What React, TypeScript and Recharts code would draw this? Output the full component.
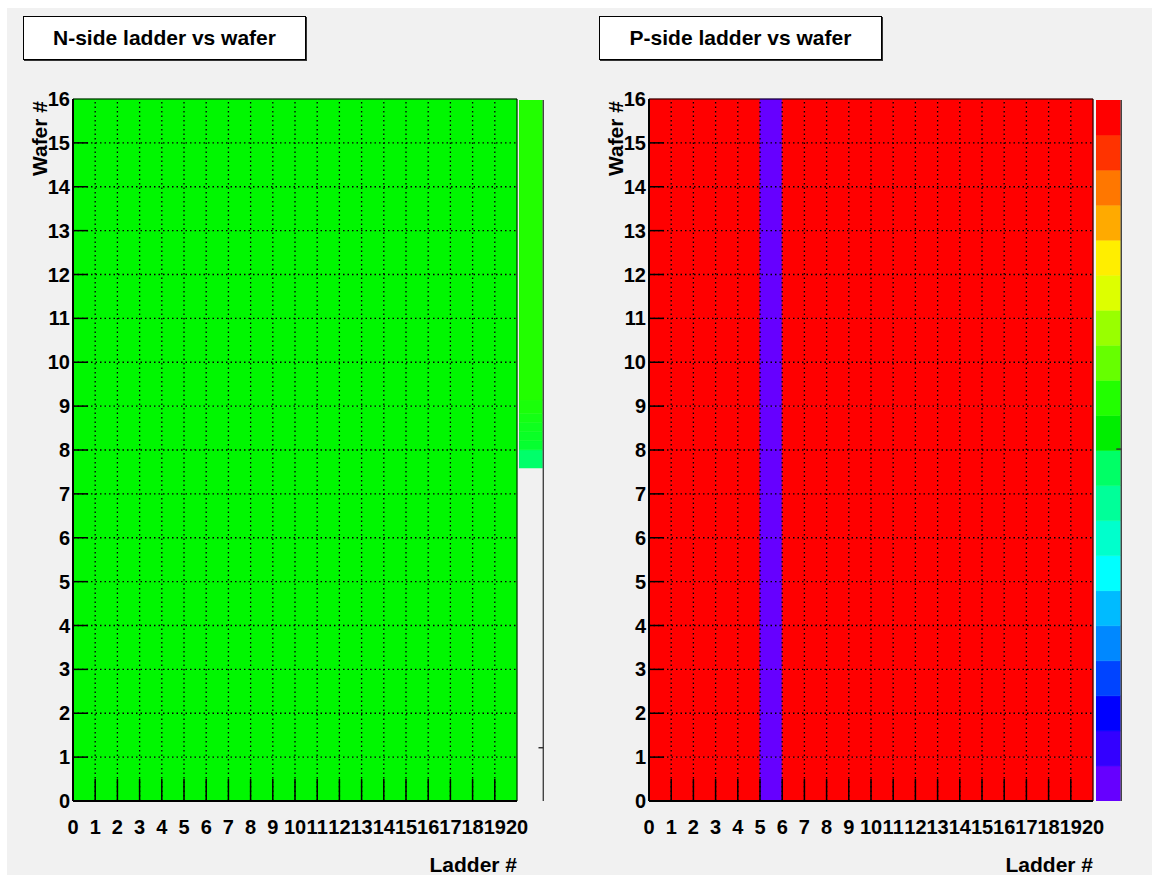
import { ComposedChart, XAxis, YAxis, ReferenceArea, ReferenceLine, Scatter } from "recharts";

// ladders along x, wafers along y
const ladders = [0, 1, 2, 3, 4, 5, 6, 7, 8, 9, 10, 11, 12, 13, 14, 15, 16, 17, 18, 19];
const wafers = [0, 1, 2, 3, 4, 5, 6, 7, 8, 9, 10, 11, 12, 13, 14, 15];
const xTicks = [0, 1, 2, 3, 4, 5, 6, 7, 8, 9, 10, 11, 12, 13, 14, 15, 16, 17, 18, 19, 20];
const yTicks = [0, 1, 2, 3, 4, 5, 6, 7, 8, 9, 10, 11, 12, 13, 14, 15, 16];

// value of each ladder (same for every wafer of the ladder)
const nSideLadderValues = [1, 1, 1, 1, 1, 1, 1, 1, 1, 1, 1, 1, 1, 1, 1, 1, 1, 1, 1, 1];
const pSideLadderValues = [1, 1, 1, 1, 1, 0, 1, 1, 1, 1, 1, 1, 1, 1, 1, 1, 1, 1, 1, 1];

// ROOT palette, bottom to top
const palette = [
    "#6600ff", "#3300ff", "#0000ff", "#0044ff", "#0088ff", "#00bbff", "#00ffff", "#00ffcc", "#00ff99", "#00ff66",
    "#00ee00", "#22ff00", "#66ff00", "#99ff00", "#ddff00", "#ffee00", "#ffaa00", "#ff7700", "#ff3300", "#ff0000",
];

// N-side colour bar: solid top part and thin stripes under it, the rest is empty
const nScaleStops = [0.475, 0.501, 0.514, 0.527, 0.54, 0.553, 0.572, 1];
const nScaleColors = ["#00ff6a", "#06ff30", "#0aff26", "#0eff1e", "#14ff14", "#1aff0a", "#22ff00"];
const nScaleTick = 0.076;
const pScaleTick = 0.502;

const FONT = '"Liberation Sans", Arial, Helvetica, sans-serif';

function colorOf(v: number) {
    let i = Math.floor(v * palette.length);
    if (i > palette.length - 1) i = palette.length - 1;
    if (i < 0) i = 0;
    return palette[i];
}

const XTick = (props: any) => {
    const { x, y, payload } = props;
    return (
        <text x={x} y={y + 33} textAnchor="middle" fontSize={20} fontWeight="bold" fill="#000" fontFamily={FONT}>
            {payload.value}
        </text>
    );
};

const YTick = (props: any) => {
    const { x, y, payload } = props;
    return (
        <text x={x} y={y + 7} textAnchor="end" fontSize={20} fontWeight="bold" fill="#000" fontFamily={FONT}>
            {payload.value}
        </text>
    );
};

// corner points so the axes have something to work with
const frameData = [{ x: 0, y: 0 }, { x: 20, y: 16 }];
const barFrameData = [{ x: 0, y: 0 }, { x: 1, y: 1 }];

function Panel(props: {
    left: number,
    title: string,
    values: number[],
    cellColor: (v: number) => string,
    bars: { from: number, to: number, color: string }[],
    barLeft: number,
    barWidth: number,
    scaleTick: number,
}) {
    const cells: any[] = [];
    ladders.forEach((l, i) => {
        wafers.forEach((w) => {
            const c = props.cellColor(props.values[i]);
            cells.push(
                <ReferenceArea key={`c${l}-${w}`} x1={l} x2={l + 1} y1={w} y2={w + 1}
                    fill={c} fillOpacity={1} stroke={c} strokeWidth={0.6} ifOverflow="visible" />
            );
        });
    });

    const grid: any[] = [];
    xTicks.slice(1, -1).forEach((t) => {
        grid.push(<ReferenceLine key={`gx${t}`} x={t} stroke="#000" strokeWidth={1.3} strokeDasharray="1.5 3" />);
        // ticks go inward, half a wafer high
        grid.push(<ReferenceLine key={`tx${t}`} segment={[{ x: t, y: 0 }, { x: t, y: 0.5 }]} stroke="#000" strokeWidth={1.5} />);
    });
    yTicks.slice(1, -1).forEach((t) => {
        grid.push(<ReferenceLine key={`gy${t}`} y={t} stroke="#000" strokeWidth={1.3} strokeDasharray="1.5 3" />);
        grid.push(<ReferenceLine key={`ty${t}`} segment={[{ x: 0, y: t }, { x: 0.68, y: t }]} stroke="#000" strokeWidth={1.5} />);
    });

    return (
        <>
            <div style={{
                position: "absolute", left: props.left + 23, top: 16, width: 281, height: 42,
                background: "#fff", border: "1px solid #000", boxShadow: "1px 1px 0 #333",
                fontFamily: FONT, fontWeight: "bold", fontSize: 21, lineHeight: "42px", textAlign: "center",
            }}>
                {props.title}
            </div>

            <div style={{ position: "absolute", left: props.left, top: 0 }}>
                <ComposedChart width={576} height={875} data={frameData} margin={{ top: 99, right: 59, bottom: 0, left: 33 }}>
                    <XAxis type="number" dataKey="x" domain={[0, 20]} ticks={xTicks} interval={0}
                        tick={<XTick />} tickSize={0} tickMargin={0} axisLine={false} tickLine={false} height={74}
                        label={(p: any) => {
                            const vb = p.viewBox || { x: 73, y: 801, width: 444 };
                            return (
                                <text x={vb.x + vb.width} y={vb.y + 71} textAnchor="end" fontSize={21}
                                    fontWeight="bold" fill="#000" fontFamily={FONT}>Ladder #</text>
                            );
                        }} />
                    <YAxis type="number" dataKey="y" domain={[0, 16]} ticks={yTicks} interval={0}
                        tick={<YTick />} tickSize={0} tickMargin={3} axisLine={false} tickLine={false} width={40}
                        label={(p: any) => {
                            const vb = p.viewBox || { x: 33, y: 99 };
                            const lx = vb.x + 14;
                            const ly = vb.y + 2;
                            return (
                                <text x={lx} y={ly} transform={`rotate(-90, ${lx}, ${ly})`} textAnchor="end"
                                    fontSize={21} fontWeight="bold" fill="#000" fontFamily={FONT}>Wafer #</text>
                            );
                        }} />
                    <Scatter dataKey="y" fill="none" shape={() => <g />} isAnimationActive={false} />
                    {cells}
                    {grid}
                    <ReferenceLine x={20} stroke="#000" strokeWidth={1} />
                    <ReferenceLine y={16} stroke="#000" strokeWidth={1} />
                    <ReferenceLine x={0} stroke="#000" strokeWidth={2} />
                    <ReferenceLine y={0} stroke="#000" strokeWidth={2} />
                </ComposedChart>
            </div>

            <div style={{ position: "absolute", left: props.barLeft, top: 100 }}>
                <ComposedChart width={props.barWidth} height={701} data={barFrameData} margin={{ top: 0, right: 0, bottom: 0, left: 0 }}>
                    <XAxis type="number" dataKey="x" domain={[0, 1]} hide />
                    <YAxis type="number" dataKey="y" domain={[0, 1]} hide />
                    <Scatter dataKey="y" fill="none" shape={() => <g />} isAnimationActive={false} />
                    {props.bars.map((b, i) => (
                        <ReferenceArea key={`b${i}`} x1={0} x2={0.94} y1={b.from} y2={b.to}
                            fill={b.color} fillOpacity={1} stroke={b.color} strokeWidth={0.5} ifOverflow="visible" />
                    ))}
                    <ReferenceLine x={0.98} stroke="#444" strokeWidth={1.8} />
                    <ReferenceLine segment={[{ x: 0.78, y: props.scaleTick }, { x: 0.98, y: props.scaleTick }]}
                        stroke="#333" strokeWidth={1.5} />
                </ComposedChart>
            </div>
        </>
    );
}

export default function App() {
    const nBars = nScaleColors.map((c, i) => ({ from: nScaleStops[i], to: nScaleStops[i + 1], color: c }));
    const pBars = palette.map((c, i) => ({ from: i / palette.length, to: (i + 1) / palette.length, color: c }));

    return (
        <div style={{ position: "absolute", left: 0, top: 0, width: 1152, height: 875, background: "#fff", overflow: "hidden" }}>
            <div style={{ position: "absolute", left: 7, top: 8, right: 0, bottom: 0, background: "#f1f1f1" }} />
            <Panel left={0} title="N-side ladder vs wafer" values={nSideLadderValues}
                cellColor={() => "#00f700"} bars={nBars} barLeft={519} barWidth={25} scaleTick={nScaleTick} />
            <Panel left={576} title="P-side ladder vs wafer" values={pSideLadderValues}
                cellColor={colorOf} bars={pBars} barLeft={1096} barWidth={26} scaleTick={pScaleTick} />
        </div>
    );
}
